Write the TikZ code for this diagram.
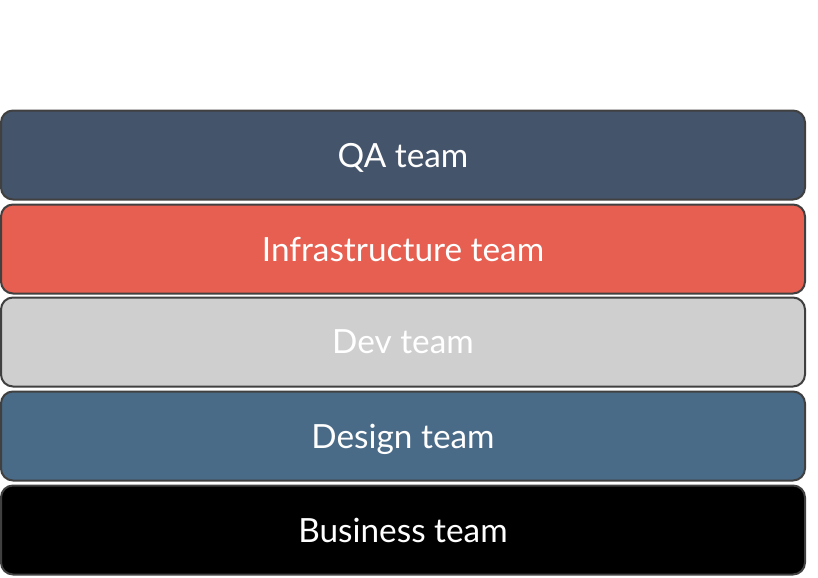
\documentclass[tikz,border=0pt]{standalone}
\usepackage{fontspec}
\setmainfont{Lato}
\definecolor{qa}{HTML}{44546A}
\definecolor{infra}{HTML}{E65F50}
\definecolor{dev}{HTML}{CFCFCF}
\definecolor{design}{HTML}{4A6B88}
\definecolor{biz}{HTML}{000000}
\definecolor{edge}{HTML}{404040}
\begin{document}
\begin{tikzpicture}[x=0.75pt,y=-0.75pt,
  layer/.style={draw=edge,line width=1.5pt,rounded corners=9pt,minimum width=804*0.75pt,minimum height=89*0.75pt,inner sep=0pt,text=white,text depth=0pt,font=\fontsize{25}{29}\selectfont}]
\useasboundingbox (0,0) rectangle (818,578);
\node[layer,fill=qa] (qa) at (403,155) {QA team};
\node[layer,fill=infra] (infra) at (403,249) {Infrastructure team};
\node[layer,fill=dev] (dev) at (403,342) {Dev team};
\node[layer,fill=design] (design) at (403,436) {Design team};
\node[layer,fill=biz] (biz) at (403,530) {Business team};
\end{tikzpicture}
\end{document}
